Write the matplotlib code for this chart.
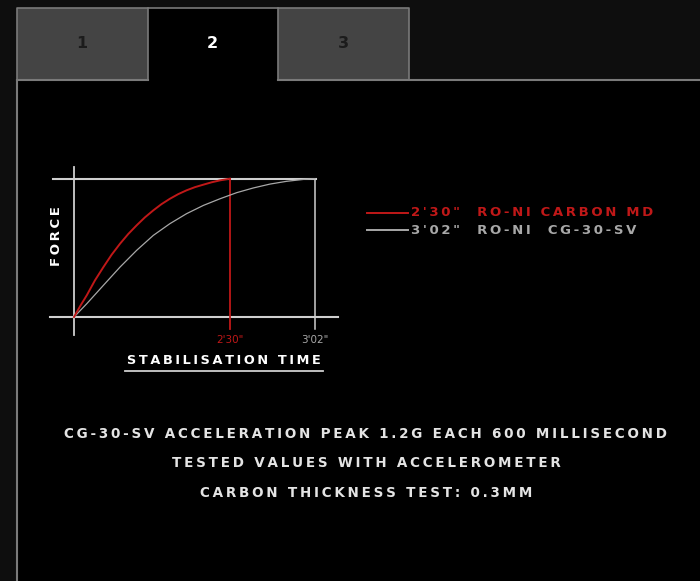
import matplotlib.pyplot as plt
from matplotlib.patches import Rectangle
import numpy as np

# Data (time as % of the CG-30-SV stabilisation time, force as % of peak)
red_time = [0, 2.6, 5.3, 8.7, 12.2, 15.6, 19.1, 22.5, 26.0, 29.4, 32.9, 36.3,
            39.8, 43.2, 46.7, 50.2, 53.7, 57.1, 60.6, 64.7]
red_force = [0, 8.0, 15.7, 26.5, 36.1, 45.0, 53.0, 60.0, 66.3, 72.0, 77.1, 81.6,
             85.5, 88.8, 91.6, 93.9, 95.7, 97.4, 98.8, 100]
gray_time = [0, 5.3, 12.2, 19.1, 26.0, 32.9, 39.8, 46.7, 53.7, 60.6, 67.5, 74.4,
             81.3, 88.2, 95.2, 100]
gray_force = [0, 9.6, 22.9, 36.1, 48.2, 59.0, 67.5, 74.7, 80.7, 85.5, 89.9, 93.3,
              96.1, 98.1, 99.5, 100]
tick_pos = [64.7, 100]
tick_labels = ["2'30\"", "3'02\""]
series_labels = ["2'30\"  RO-NI CARBON MD", "3'02\"  RO-NI  CG-30-SV"]
tabs = ['1', '2', '3']
notes = ['CG-30-SV ACCELERATION PEAK 1.2G EACH 600 MILLISECOND',
         'TESTED VALUES WITH ACCELEROMETER',
         'CARBON THICKNESS TEST: 0.3MM']

RED = '#c01818'
GRAY = '#a8a8a8'
AXC = '#cfcfcf'
W, H = 700, 581


def spaced(s):
    # mimic the wide letter-spacing of the original typeface
    return '\u2009'.join(s)


fig = plt.figure(figsize=(7, 5.81), dpi=100)
fig.patch.set_facecolor('#0e0e0e')

# Background / frame in pixel coordinates
bg = fig.add_axes([0, 0, 1, 1])
bg.set_xlim(0, W)
bg.set_ylim(H, 0)
bg.axis('off')
bg.add_patch(Rectangle((17, 80), W - 17, H - 80, color='black', zorder=1))
for i, t in enumerate(tabs):
    x0 = 17 + i * 130.5
    active = (i == 1)
    bg.add_patch(Rectangle((x0, 8), 130.5, 73 if active else 72,
                           facecolor='black' if active else '#444444',
                           edgecolor='none', zorder=2))
    bg.text(x0 + 65, 44, t, ha='center', va='center', fontsize=11.5,
            fontweight='bold', color='white' if active else '#1c1c1c', zorder=3)
# tab borders
bg.plot([17, 17, 409, 409], [80, 8, 8, 80], color='#7a7a7a', lw=1.2, zorder=3)
bg.plot([147.5, 147.5], [8, 80], color='#7a7a7a', lw=1.2, zorder=3)
bg.plot([278, 278], [8, 80], color='#7a7a7a', lw=1.2, zorder=3)
bg.plot([17, 147.5], [80, 80], color='#7a7a7a', lw=1.5, zorder=3)
bg.plot([278, W], [80, 80], color='#7a7a7a', lw=1.5, zorder=3)
bg.plot([17, 17], [80, H], color='#7a7a7a', lw=1.5, zorder=3)

# Chart axes
ax = fig.add_axes([74 / W, 1 - 317 / H, 241 / W, 138.3 / H])
ax.set_xlim(0, 100)
ax.set_ylim(0, 100)
ax.axis('off')
ax.patch.set_alpha(0)

ax.plot([-8.7, 100.4], [100, 100], color=AXC, lw=1.5, clip_on=False)
ax.plot([-10, 109.5], [0, 0], color=AXC, lw=1.5, clip_on=False)
ax.plot([0, 0], [-13, 108.5], color=AXC, lw=1.3, clip_on=False)
ax.plot([tick_pos[0]] * 2, [-8.7, 100], color=RED, lw=1.3, clip_on=False)
ax.plot([tick_pos[1]] * 2, [-8.7, 100], color=AXC, lw=1.1, clip_on=False)

ax.plot(gray_time, gray_force, color=GRAY, lw=0.9, clip_on=False)
ax.plot(red_time, red_force, color=RED, lw=1.4, clip_on=False)

for p, lab, c in zip(tick_pos, tick_labels, [RED, GRAY]):
    ax.text(p, -16.5, lab, ha='center', va='center', fontsize=7.5, color=c)

bg.text(56, 236, spaced('FORCE'), rotation=90, ha='center', va='center',
        fontsize=9.5, fontweight='bold', color='white')
bg.text(224, 361, spaced('STABILISATION TIME'), ha='center', va='center',
        fontsize=9.3, fontweight='bold', color='white')
bg.plot([125, 323], [371, 371], color=AXC, lw=1.3)

# Legend
for y, lab, c in zip([213, 230], series_labels, [RED, GRAY]):
    bg.plot([367, 408], [y, y], color=c, lw=1.4)
    bg.text(411, y, spaced(lab), ha='left', va='center', fontsize=9.5,
            fontweight='bold', color=c)

# Notes
for y, n in zip([434, 463, 493], notes):
    bg.text(366, y, spaced(n), ha='center', va='center', fontsize=9.75,
            fontweight='bold', color='#e4e4e4')

plt.savefig('out.png', dpi=100, facecolor=fig.get_facecolor())
